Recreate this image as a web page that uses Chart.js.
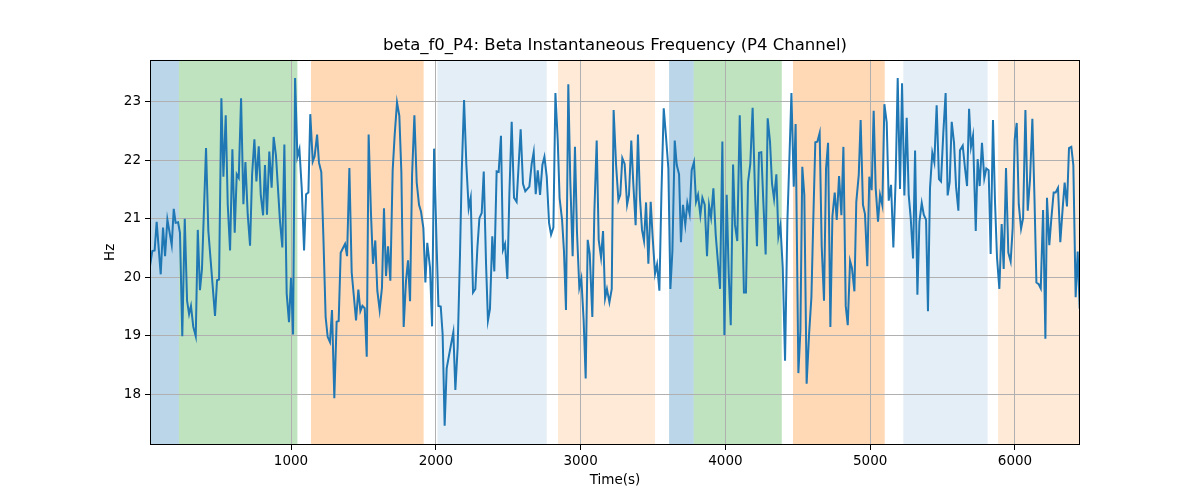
<!DOCTYPE html>
<html><head><meta charset="utf-8">
<script src="https://cdn.jsdelivr.net/npm/chart.js@4.4.1/dist/chart.umd.min.js"></script>
<style>html,body{margin:0;padding:0;background:#fff;} canvas{display:block;}</style>
</head><body>
<canvas id="c" width="1200" height="500"></canvas>
<script>
const titleText = 'beta_f0_P4: Beta Instantaneous Frequency (P4 Channel)';
const xLabel = 'Time(s)';
const yLabel = 'Hz';
const xTicks = [1000, 2000, 3000, 4000, 5000, 6000];
const yTicks = [18, 19, 20, 21, 22, 23];
const xMin = 26, xMax = 6449, yMin = 17.13, yMax = 23.72;

const times = [
26,42,58,72,100,116,130,146,176,190,203,220,233,249,266,282,296,309,325,342,356,371,385,413,429,475,489,503,519,533,549,563,579,595,611,625,639,655,671,685,701,717,731,747,761,777,791,807,820,834,850,866,880,896,924,940,954,970,986,1000,1014,
1028,1044,1058,1074,1090,1104,1120,1133,1150,1163,1180,1193,1209,1223,1239,1253,1269,1283,1299,1315,1329,1343,1359,1373,1387,1403,1419,1433,1449,1465,1479,1493,1509,1523,1536,1552,1566,1582,1596,1612,1628,1642,1656,1670,1686,1702,1716,1732,1748,1762,1778,1794,1808,1822,1836,1852,1868,1884,1898,1914,1928,1941,1960,1974,1988,2006,2018,2034,2047,
2061,2075,2093,2121,2135,2151,2167,2179,2195,2211,2227,2241,2257,2273,2287,2301,2317,2331,2347,2360,2374,2390,2404,2420,2434,2450,2464,2478,2494,2508,2524,2540,2558,2572,2586,2602,2618,2646,2662,2676,2690,2704,2720,2736,2750,2766,2782,2796,2812,2826,2842,2855,2872,2885,2899,2915,2929,2945,2961,2975,2991,3005,3021,3035,3049,
3063,3081,3095,3111,3125,3141,3155,3169,3182,3199,3215,3228,3245,3261,3274,3288,3304,3321,3334,3350,3364,3380,3396,3410,3424,3438,3452,3468,3484,3498,3514,3528,3544,3558,3574,3590,3606,3620,3634,3650,3664,3680,3693,3707,3723,3737,3753,3767,3783,3797,3811,3827,3841,3857,3873,3887,3901,3917,3933,3963,3979,3993,4009,4023,4037,4053,4066,4082,4099,4112,4128,4142,4156,4172,4188,
4205,4218,4232,4248,4262,4278,4292,4308,4322,4336,4352,4366,4380,4396,4412,4428,4442,4456,4472,4485,4504,4518,4531,4545,4561,4578,4594,4607,4621,4635,4651,4665,4681,4695,4709,4725,4739,4755,4769,4785,4801,4815,4831,4845,4861,4874,4891,4904,4921,4934,4950,4964,4980,4994,5010,5024,5038,5054,5068,5084,5098,5114,5128,
5144,5160,5176,5190,5206,5220,5236,5252,5266,5280,5296,5310,5326,5340,5356,5370,5386,5399,5413,5429,5443,5459,5475,5489,5505,5521,5535,5549,5563,5579,5593,5609,5620,5639,5655,5669,5683,5696,5710,5729,5742,5756,5772,5788,5802,5818,5832,5848,5862,5876,5892,5908,5922,5938,5954,5970,5984,5998,6012,6026,6042,6056,6072,6088,6104,6120,6134,6148,6164,6178,6194,6210,6221,6237,6251,6267,6281,6297,6313,6329,6343,6359,6373,6389,6403,6419,6433,6447
];
const hz = [
20.19,20.45,20.46,20.95,20.05,20.85,20.36,20.99,20.55,21.17,20.93,20.94,20.76,18.99,21.0,19.6,19.37,19.51,19.15,18.99,20.81,19.78,20.14,22.21,20.79,19.34,19.95,19.96,23.06,21.72,22.77,21.24,20.46,22.19,20.76,21.76,21.7,23.06,21.25,21.97,21.07,20.54,21.75,22.36,21.64,22.24,21.41,21.06,21.92,21.07,22.15,21.53,22.4,22.08,20.95,20.51,22.27,19.72,19.23,19.99,19.02,
23.41,22.06,22.19,21.52,20.46,21.42,21.45,22.79,21.98,22.07,22.44,21.96,21.8,20.73,19.32,18.98,18.89,19.44,17.93,19.24,19.25,20.42,20.5,20.57,20.36,21.87,20.08,19.7,19.26,19.79,19.42,19.51,19.47,18.64,22.44,21.1,20.23,20.63,19.77,19.44,19.82,21.18,20.02,20.53,19.94,21.83,22.44,22.99,22.76,21.8,19.15,19.94,20.29,19.59,21.75,22.77,21.62,21.24,21.12,20.84,19.91,20.59,20.16,19.16,22.2,20.51,19.51,19.5,19.03,
17.46,18.44,18.69,19.06,18.07,18.81,20.39,21.8,23.03,21.92,21.18,21.36,19.74,19.8,20.5,21.01,21.1,21.81,20.22,19.26,19.46,20.7,20.1,21.81,21.8,22.42,20.47,20.57,19.97,21.42,22.66,21.36,21.29,21.92,22.53,21.6,21.47,21.55,21.94,22.14,21.42,21.83,21.41,21.92,22.06,21.72,20.93,20.73,20.85,23.15,22.34,21.35,20.98,20.45,19.44,23.3,21.63,20.36,22.23,20.77,19.82,19.98,19.26,18.27,20.64,
20.4,19.32,21.12,22.34,20.64,20.34,20.79,19.64,19.8,19.57,19.8,22.86,21.92,21.32,21.41,22.04,21.94,21.24,21.41,22.34,21.6,20.89,22.44,21.35,20.81,20.62,21.28,20.23,21.29,20.67,20.06,20.22,19.77,21.41,22.89,22.4,21.86,19.8,20.45,22.34,21.92,21.76,20.6,21.24,20.9,21.27,21.08,21.83,21.97,21.29,21.41,21.06,21.36,21.24,20.36,21.23,21.02,21.52,20.73,19.8,22.32,19.01,21.41,20.05,19.18,21.93,20.9,20.62,22.77,21.52,19.74,19.74,21.62,21.94,22.9,
21.41,20.53,22.13,22.14,21.29,20.39,22.72,22.32,21.6,21.34,21.76,20.7,20.89,20.16,18.57,20.95,22.03,23.15,21.55,22.62,18.36,19.09,21.89,21.41,18.18,19.03,19.66,20.98,22.31,22.32,22.47,20.53,19.6,21.86,22.3,19.15,21.04,21.45,20.98,21.73,21.06,22.23,19.51,19.18,20.28,20.16,19.76,21.29,21.75,22.69,21.24,21.08,20.19,21.72,21.49,22.85,21.52,20.95,21.41,21.23,22.96,22.65,21.31,
21.58,20.51,21.68,23.41,21.51,23.32,21.4,22.73,21.41,21.01,20.32,22.17,19.7,20.95,21.27,21.07,20.98,19.42,21.52,22.13,21.97,22.94,21.68,21.64,22.47,23.15,21.4,21.63,22.66,22.3,21.55,21.14,22.17,22.25,21.86,21.56,22.88,22.23,22.42,20.79,22.02,21.56,22.3,21.69,21.86,21.83,20.4,22.69,21.29,20.33,19.8,20.91,20.14,21.87,20.42,20.27,20.84,22.36,22.64,21.25,20.83,21.01,22.86,21.14,21.68,22.71,21.41,19.91,19.88,19.81,21.15,18.95,21.36,20.55,21.0,21.45,21.45,21.53,20.6,21.17,21.62,21.21,22.21,22.23,21.92,19.66,20.44,19.46
];

const spanStart = [26, 226, 1138, 2011, 2844, 3611, 3781, 4467, 5229, 5883];
const spanEnd   = [226, 1044, 1916, 2766, 3514, 3781, 4389, 5100, 5811, 6449];
const spanKind  = ['blue','green','orange','lightblue','lightorange','blue','green','orange','lightblue','lightorange'];

const kindColor = {
  blue: 'rgba(31,119,180,0.3)',
  green: 'rgba(44,160,44,0.3)',
  orange: 'rgba(255,127,14,0.3)',
  lightblue: 'rgba(31,119,180,0.12)',
  lightorange: 'rgba(255,127,14,0.16)'
};

const spanPlugin = {
  id: 'spans',
  beforeDraw(chart) {
    const {ctx, chartArea: a, scales: {x}} = chart;
    ctx.save();
    ctx.beginPath(); ctx.rect(a.left, a.top, a.width, a.height); ctx.clip();
    spanStart.forEach((s, i) => {
      const x0 = x.getPixelForValue(s), x1 = x.getPixelForValue(spanEnd[i]);
      ctx.fillStyle = kindColor[spanKind[i]];
      ctx.fillRect(x0, a.top, x1 - x0, a.height);
    });
    ctx.restore();
  },
  afterDatasetsDraw(chart) {
    const {ctx, chartArea: a} = chart;
    ctx.save();
    ctx.strokeStyle = '#000'; ctx.lineWidth = 1;
    ctx.strokeRect(Math.round(a.left) + 0.5, Math.round(a.top) + 0.5, Math.round(a.width) - 1, Math.round(a.height) - 1);
    ctx.restore();
  }
};

const FONT = 'DejaVu Sans';
new Chart(document.getElementById('c'), {
  type: 'line',
  data: {
    datasets: [{
      data: times.map((t, i) => ({x: t, y: hz[i]})),
      borderColor: '#1f77b4', borderWidth: 2, pointRadius: 0, tension: 0, fill: false
    }]
  },
  options: {
    responsive: false, animation: false,
    layout: {padding: {left: 0, right: 120, top: 0, bottom: 0}},
    plugins: {
      legend: {display: false}, tooltip: {enabled: false},
      title: {display: true, text: titleText, fullSize: false, color: '#000',
        font: {family: FONT, size: 16.5, weight: 'normal'}, padding: {top: 36, bottom: 4}}
    },
    scales: {
      x: {
        type: 'linear', min: xMin, max: xMax,
        afterBuildTicks: s => { s.ticks = xTicks.map(v => ({value: v})); },
        afterFit: s => { s.height = 55; },
        grid: {color: '#b0b0b0', lineWidth: 1, tickColor: '#000', tickLength: 5, drawTicks: true},
        border: {display: false},
        ticks: {color: '#000', font: {family: FONT, size: 13.5}, padding: 3, maxRotation: 0, callback: v => String(v)},
        title: {display: true, text: xLabel, color: '#000', font: {family: FONT, size: 13.5}, padding: {top: 0, bottom: 11}}
      },
      y: {
        type: 'linear', min: yMin, max: yMax,
        afterBuildTicks: s => { s.ticks = yTicks.map(v => ({value: v})); },
        afterFit: s => { s.width = 150; },
        grid: {color: '#b0b0b0', lineWidth: 1, tickColor: '#000', tickLength: 5, drawTicks: true},
        border: {display: false},
        ticks: {color: '#000', font: {family: FONT, size: 13.5}, padding: 4, callback: v => String(v)},
        title: {display: true, text: yLabel, color: '#000', font: {family: FONT, size: 13.5}, padding: {top: 102, bottom: 0}}
      }
    }
  },
  plugins: [spanPlugin]
});
</script>
</body></html>
